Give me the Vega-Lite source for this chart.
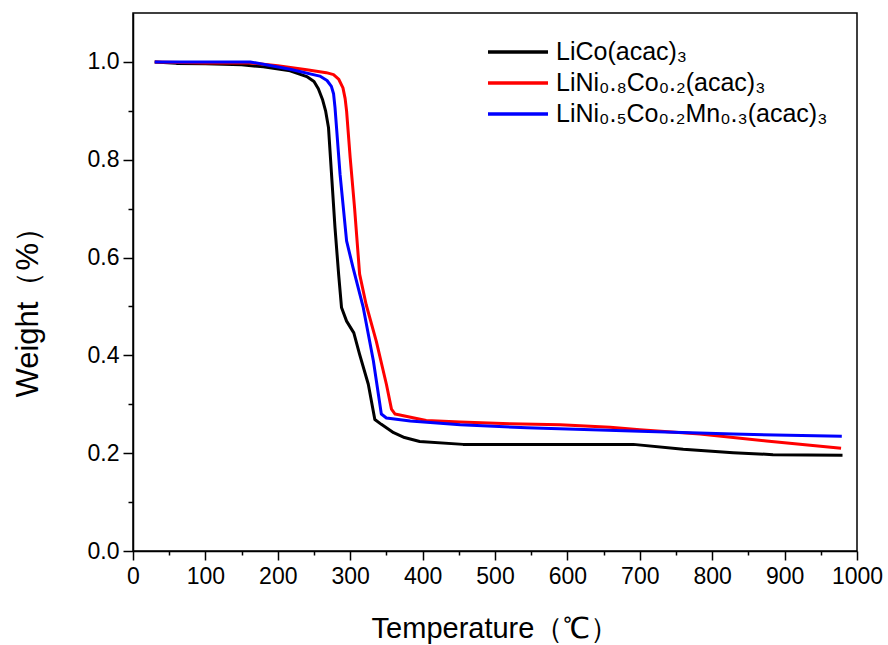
{
  "$schema": "https://vega.github.io/schema/vega-lite/v6.json",
  "width": 724,
  "height": 538,
  "autosize": {"type": "none"},
  "padding": {"left": 133, "top": 13, "right": 31, "bottom": 94},
  "background": "white",
  "config": {
    "view": {"stroke": "black", "strokeWidth": 1.5},
    "font": "Liberation Sans"
  },
  "data": {
    "values": [
      {"s": "LiCo(acac)₃", "T": 30, "w": 1.000},
      {"s": "LiCo(acac)₃", "T": 60, "w": 0.997},
      {"s": "LiCo(acac)₃", "T": 100, "w": 0.996},
      {"s": "LiCo(acac)₃", "T": 150, "w": 0.994},
      {"s": "LiCo(acac)₃", "T": 180, "w": 0.990},
      {"s": "LiCo(acac)₃", "T": 217, "w": 0.982},
      {"s": "LiCo(acac)₃", "T": 240, "w": 0.970},
      {"s": "LiCo(acac)₃", "T": 250, "w": 0.960},
      {"s": "LiCo(acac)₃", "T": 256, "w": 0.945},
      {"s": "LiCo(acac)₃", "T": 262, "w": 0.922},
      {"s": "LiCo(acac)₃", "T": 266, "w": 0.900},
      {"s": "LiCo(acac)₃", "T": 270, "w": 0.866},
      {"s": "LiCo(acac)₃", "T": 274, "w": 0.775},
      {"s": "LiCo(acac)₃", "T": 279, "w": 0.661},
      {"s": "LiCo(acac)₃", "T": 284, "w": 0.566},
      {"s": "LiCo(acac)₃", "T": 288, "w": 0.498},
      {"s": "LiCo(acac)₃", "T": 295, "w": 0.470},
      {"s": "LiCo(acac)₃", "T": 305, "w": 0.446},
      {"s": "LiCo(acac)₃", "T": 313, "w": 0.402},
      {"s": "LiCo(acac)₃", "T": 325, "w": 0.341},
      {"s": "LiCo(acac)₃", "T": 334, "w": 0.269},
      {"s": "LiCo(acac)₃", "T": 343, "w": 0.259},
      {"s": "LiCo(acac)₃", "T": 360, "w": 0.242},
      {"s": "LiCo(acac)₃", "T": 375, "w": 0.232},
      {"s": "LiCo(acac)₃", "T": 396, "w": 0.224},
      {"s": "LiCo(acac)₃", "T": 456, "w": 0.218},
      {"s": "LiCo(acac)₃", "T": 550, "w": 0.218},
      {"s": "LiCo(acac)₃", "T": 650, "w": 0.218},
      {"s": "LiCo(acac)₃", "T": 691, "w": 0.218},
      {"s": "LiCo(acac)₃", "T": 760, "w": 0.208},
      {"s": "LiCo(acac)₃", "T": 829, "w": 0.201},
      {"s": "LiCo(acac)₃", "T": 884, "w": 0.197},
      {"s": "LiCo(acac)₃", "T": 980, "w": 0.196},
      {"s": "LiNi₀.₈Co₀.₂(acac)₃", "T": 30, "w": 1.000},
      {"s": "LiNi₀.₈Co₀.₂(acac)₃", "T": 100, "w": 0.998},
      {"s": "LiNi₀.₈Co₀.₂(acac)₃", "T": 162, "w": 0.998},
      {"s": "LiNi₀.₈Co₀.₂(acac)₃", "T": 200, "w": 0.992},
      {"s": "LiNi₀.₈Co₀.₂(acac)₃", "T": 240, "w": 0.984},
      {"s": "LiNi₀.₈Co₀.₂(acac)₃", "T": 267, "w": 0.978},
      {"s": "LiNi₀.₈Co₀.₂(acac)₃", "T": 277, "w": 0.974},
      {"s": "LiNi₀.₈Co₀.₂(acac)₃", "T": 284, "w": 0.965},
      {"s": "LiNi₀.₈Co₀.₂(acac)₃", "T": 290, "w": 0.947},
      {"s": "LiNi₀.₈Co₀.₂(acac)₃", "T": 293, "w": 0.925},
      {"s": "LiNi₀.₈Co₀.₂(acac)₃", "T": 295, "w": 0.900},
      {"s": "LiNi₀.₈Co₀.₂(acac)₃", "T": 300, "w": 0.804},
      {"s": "LiNi₀.₈Co₀.₂(acac)₃", "T": 306, "w": 0.702},
      {"s": "LiNi₀.₈Co₀.₂(acac)₃", "T": 313, "w": 0.566},
      {"s": "LiNi₀.₈Co₀.₂(acac)₃", "T": 322, "w": 0.504},
      {"s": "LiNi₀.₈Co₀.₂(acac)₃", "T": 336, "w": 0.429},
      {"s": "LiNi₀.₈Co₀.₂(acac)₃", "T": 350, "w": 0.341},
      {"s": "LiNi₀.₈Co₀.₂(acac)₃", "T": 357, "w": 0.290},
      {"s": "LiNi₀.₈Co₀.₂(acac)₃", "T": 362, "w": 0.280},
      {"s": "LiNi₀.₈Co₀.₂(acac)₃", "T": 405, "w": 0.267},
      {"s": "LiNi₀.₈Co₀.₂(acac)₃", "T": 452, "w": 0.264},
      {"s": "LiNi₀.₈Co₀.₂(acac)₃", "T": 521, "w": 0.260},
      {"s": "LiNi₀.₈Co₀.₂(acac)₃", "T": 590, "w": 0.258},
      {"s": "LiNi₀.₈Co₀.₂(acac)₃", "T": 659, "w": 0.253},
      {"s": "LiNi₀.₈Co₀.₂(acac)₃", "T": 700, "w": 0.248},
      {"s": "LiNi₀.₈Co₀.₂(acac)₃", "T": 783, "w": 0.239},
      {"s": "LiNi₀.₈Co₀.₂(acac)₃", "T": 875, "w": 0.225},
      {"s": "LiNi₀.₈Co₀.₂(acac)₃", "T": 978, "w": 0.210},
      {"s": "LiNi₀.₅Co₀.₂Mn₀.₃(acac)₃", "T": 30, "w": 1.000},
      {"s": "LiNi₀.₅Co₀.₂Mn₀.₃(acac)₃", "T": 100, "w": 1.000},
      {"s": "LiNi₀.₅Co₀.₂Mn₀.₃(acac)₃", "T": 162, "w": 1.000},
      {"s": "LiNi₀.₅Co₀.₂Mn₀.₃(acac)₃", "T": 217, "w": 0.985},
      {"s": "LiNi₀.₅Co₀.₂Mn₀.₃(acac)₃", "T": 258, "w": 0.971},
      {"s": "LiNi₀.₅Co₀.₂Mn₀.₃(acac)₃", "T": 268, "w": 0.962},
      {"s": "LiNi₀.₅Co₀.₂Mn₀.₃(acac)₃", "T": 274, "w": 0.950},
      {"s": "LiNi₀.₅Co₀.₂Mn₀.₃(acac)₃", "T": 277, "w": 0.935},
      {"s": "LiNi₀.₅Co₀.₂Mn₀.₃(acac)₃", "T": 279, "w": 0.907},
      {"s": "LiNi₀.₅Co₀.₂Mn₀.₃(acac)₃", "T": 286, "w": 0.770},
      {"s": "LiNi₀.₅Co₀.₂Mn₀.₃(acac)₃", "T": 295, "w": 0.634},
      {"s": "LiNi₀.₅Co₀.₂Mn₀.₃(acac)₃", "T": 304, "w": 0.579},
      {"s": "LiNi₀.₅Co₀.₂Mn₀.₃(acac)₃", "T": 318, "w": 0.498},
      {"s": "LiNi₀.₅Co₀.₂Mn₀.₃(acac)₃", "T": 332, "w": 0.389},
      {"s": "LiNi₀.₅Co₀.₂Mn₀.₃(acac)₃", "T": 343, "w": 0.280},
      {"s": "LiNi₀.₅Co₀.₂Mn₀.₃(acac)₃", "T": 350, "w": 0.272},
      {"s": "LiNi₀.₅Co₀.₂Mn₀.₃(acac)₃", "T": 383, "w": 0.266},
      {"s": "LiNi₀.₅Co₀.₂Mn₀.₃(acac)₃", "T": 452, "w": 0.258},
      {"s": "LiNi₀.₅Co₀.₂Mn₀.₃(acac)₃", "T": 544, "w": 0.252},
      {"s": "LiNi₀.₅Co₀.₂Mn₀.₃(acac)₃", "T": 645, "w": 0.2475},
      {"s": "LiNi₀.₅Co₀.₂Mn₀.₃(acac)₃", "T": 700, "w": 0.245},
      {"s": "LiNi₀.₅Co₀.₂Mn₀.₃(acac)₃", "T": 829, "w": 0.239},
      {"s": "LiNi₀.₅Co₀.₂Mn₀.₃(acac)₃", "T": 979, "w": 0.2345}
    ]
  },
  "mark": {"type": "line", "strokeWidth": 3, "strokeJoin": "round", "clip": true},
  "encoding": {
    "x": {
      "field": "T", "type": "quantitative",
      "scale": {"domain": [0, 1000], "nice": false, "zero": false},
      "axis": {
        "title": "Temperature（℃）",
        "values": [0, 50, 100, 150, 200, 250, 300, 350, 400, 450, 500, 550, 600, 650, 700, 750, 800, 850, 900, 950, 1000],
        "labelExpr": "datum.value % 100 === 0 ? format(datum.value, 'd') : ''",
        "tickSize": {"condition": {"test": "datum.value % 100 === 0", "value": 9}, "value": 4},
        "grid": false,
        "domainColor": "black", "domainWidth": 1.5,
        "tickColor": "black", "tickWidth": 1.5,
        "labelColor": "black", "labelFontSize": 23, "labelPadding": 5,
        "labelFont": "Liberation Sans", "labelFlush": false, "labelOverlap": false,
        "titleFont": "Liberation Sans", "titleFontSize": 29, "titleFontWeight": "normal",
        "titleColor": "black", "titleBaseline": "alphabetic", "titleY": 86
      }
    },
    "y": {
      "field": "w", "type": "quantitative",
      "scale": {"domain": [0, 1.1], "nice": false, "zero": false},
      "axis": {
        "title": "Weight（%）",
        "values": [0, 0.1, 0.2, 0.3, 0.4, 0.5, 0.6, 0.7, 0.8, 0.9, 1.0],
        "labelExpr": "round(datum.value * 10) % 2 === 0 ? format(datum.value, '.1f') : ''",
        "tickSize": {"condition": {"test": "round(datum.value * 10) % 2 === 0", "value": 10}, "value": 5},
        "grid": false,
        "domainColor": "black", "domainWidth": 1.5,
        "tickColor": "black", "tickWidth": 1.5,
        "labelColor": "black", "labelFontSize": 23, "labelPadding": 4,
        "labelFont": "Liberation Sans", "labelFlush": false, "labelOverlap": false,
        "titleFont": "Liberation Sans", "titleFontSize": 31, "titleFontWeight": "normal",
        "titleColor": "black", "titleAngle": 270, "titleAlign": "left",
        "titleBaseline": "middle", "titleX": -105, "titleY": 384
      }
    },
    "color": {
      "field": "s", "type": "nominal",
      "scale": {
        "domain": ["LiCo(acac)₃", "LiNi₀.₈Co₀.₂(acac)₃", "LiNi₀.₅Co₀.₂Mn₀.₃(acac)₃"],
        "range": ["#000000", "#ff0000", "#0000ff"]
      },
      "legend": {
        "title": null,
        "orient": "none",
        "legendX": 371,
        "legendY": 25,
        "padding": 0,
        "symbolType": "M-2.5,0H2.5",
        "symbolSize": 576,
        "symbolStrokeWidth": 3.5,
        "labelFontSize": 25,
        "labelFont": "Liberation Sans",
        "labelColor": "black",
        "labelOffset": 24,
        "rowPadding": 4,
        "labelLimit": 400
      }
    }
  }
}
